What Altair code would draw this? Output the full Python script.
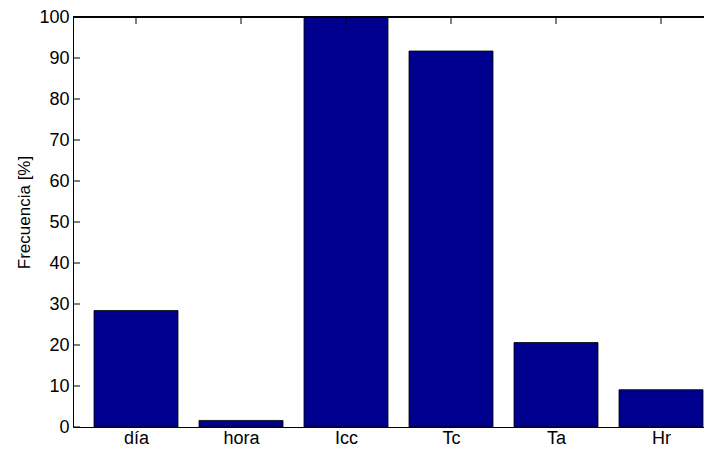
import altair as alt
import pandas as pd

categories = ["día", "hora", "Icc", "Tc", "Ta", "Hr"]
values = [28.4, 1.6, 100.0, 91.7, 20.6, 9.1]
y_ticks = [0, 10, 20, 30, 40, 50, 60, 70, 80, 90, 100]

positions = list(range(1, len(categories) + 1))
bars_df = pd.DataFrame({"cat": categories, "val": values, "pos": positions})
yt_df = pd.DataFrame({"tick": y_ticks})

FONT = "Liberation Sans"
W, H = 631, 410
STEP = 105.0
x_dom = [0.4, 0.4 + W / STEP]
label_expr = "[" + ",".join("'" + c + "'" for c in categories) + "][datum.value - 1]"

xscale = alt.Scale(domain=x_dom, nice=False, zero=False)
yscale = alt.Scale(domain=[0, 100], nice=False)

bars = alt.Chart(bars_df).transform_calculate(
    lo="datum.pos - 0.4", hi="datum.pos + 0.4", base="0"
).mark_bar(color="#00008F", stroke="black", strokeWidth=0.8).encode(
    x=alt.X("lo:Q", scale=xscale,
            axis=alt.Axis(title=None, values=positions, labelExpr=label_expr, labelAngle=0,
                          ticks=False, grid=False, domainColor="black", domainWidth=1,
                          labelFontSize=18, labelFont=FONT, labelColor="black",
                          labelPadding=2, labelFlush=False, labelOverlap=False)),
    x2="hi:Q",
    y=alt.Y("val:Q", scale=yscale,
            axis=alt.Axis(values=y_ticks, ticks=False, grid=False, domainColor="black",
                          domainWidth=1, labelFontSize=18, labelFont=FONT, labelColor="black",
                          labelPadding=4, labelFlush=False, title="Frecuencia [%]", titleFont=FONT,
                          titleFontSize=17, titleFontWeight="normal", titleColor="black",
                          titleX=-49, titleY=195, titleAngle=270, titleAlign="center",
                          titleBaseline="middle")),
    y2="base:Q",
)

left_ticks = alt.Chart(yt_df).mark_rule(color="black", strokeWidth=1).encode(
    y=alt.Y("tick:Q", scale=yscale),
    x=alt.value(0),
    x2=alt.value(7),
)

top_ticks = alt.Chart(bars_df).mark_rule(color="black", strokeWidth=1).encode(
    x=alt.X("pos:Q", scale=xscale),
    y=alt.value(0),
    y2=alt.value(7),
)

top_line = alt.Chart(bars_df).mark_rule(color="black", strokeWidth=1).encode(
    x=alt.value(0),
    x2=alt.value(W),
    y=alt.value(0),
    y2=alt.value(0),
)

chart = alt.layer(bars, left_ticks, top_ticks, top_line).properties(
    width=W,
    height=H,
    autosize=alt.AutoSizeParams(type="none"),
    padding={"left": 65, "top": 9, "right": 0, "bottom": 20},
    background="white",
).configure_view(stroke=None)

chart.save("out.html", embed_options={"renderer": "svg", "actions": False})
